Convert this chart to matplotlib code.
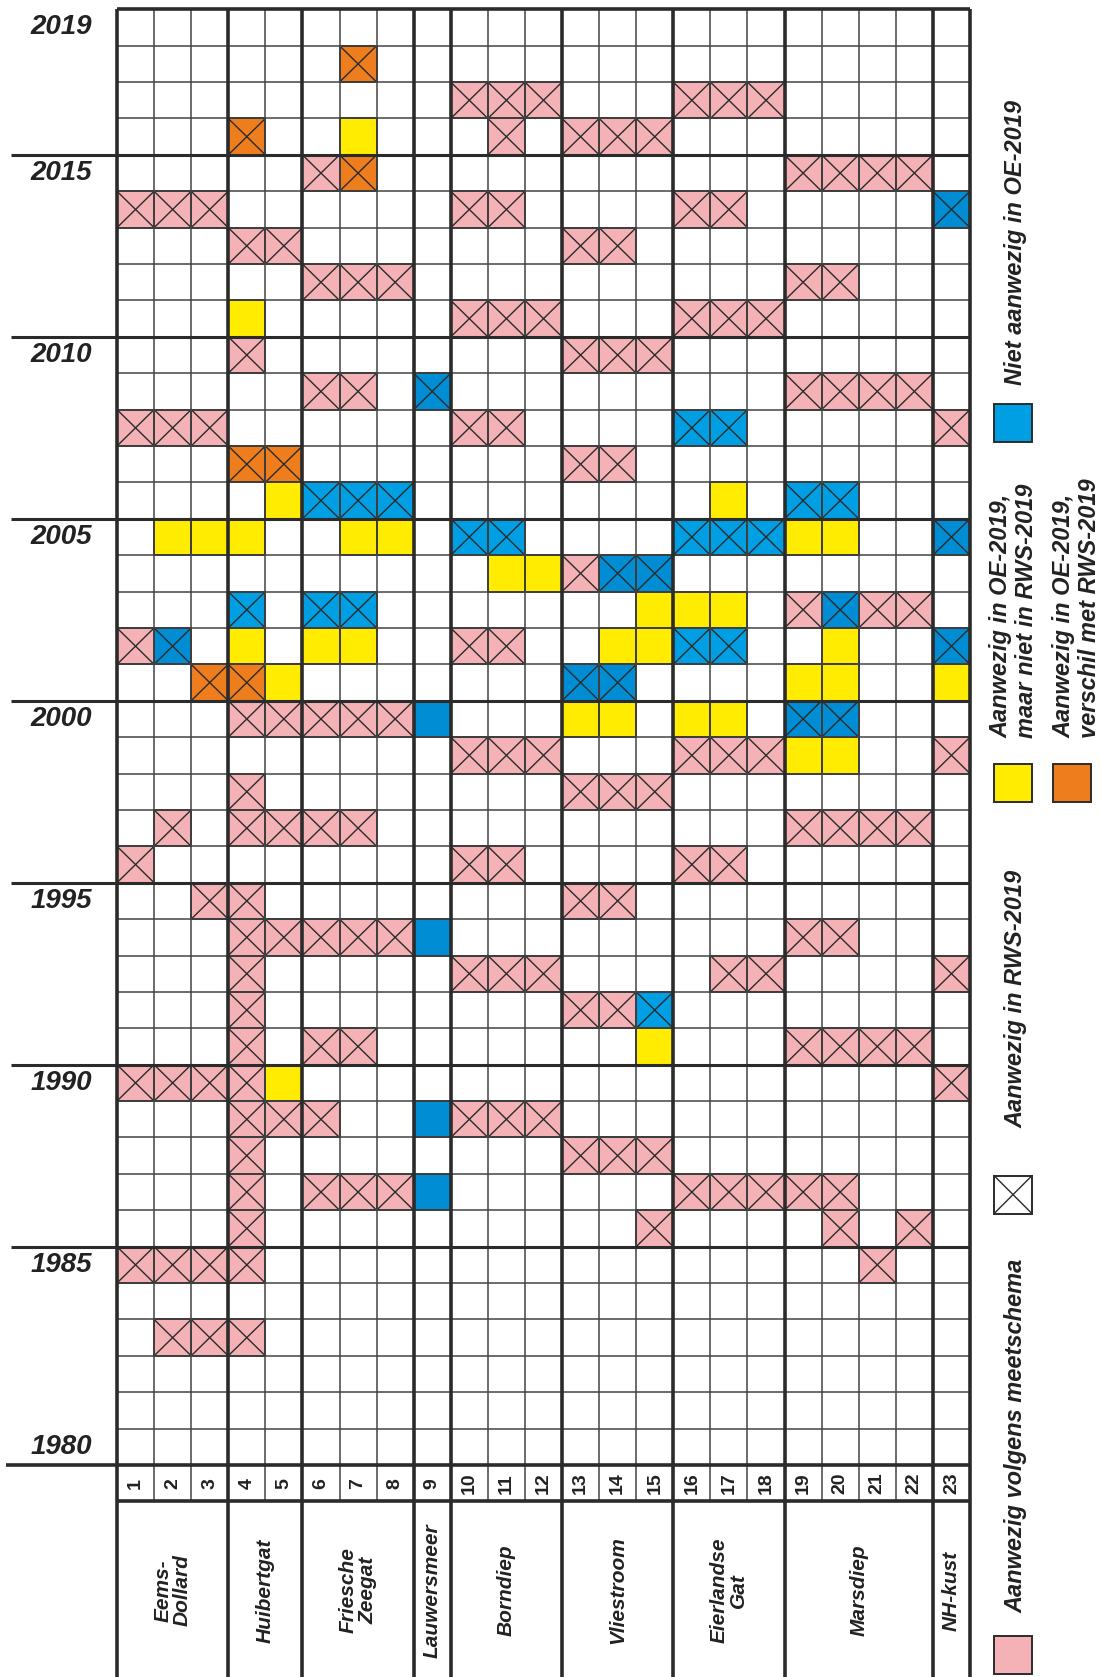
import matplotlib
matplotlib.use('Agg')
import matplotlib.pyplot as plt
from matplotlib.patches import Rectangle

plt.rcParams['font.family'] = ['Liberation Sans', 'DejaVu Sans']

# rows from 2019 (top) down to 1980, one char per station 1..23
years = list(range(2019, 1979, -1))
year_labels = [2019, 2015, 2010, 2005, 2000, 1995, 1990, 1985, 1980]
stations = ['1', '2', '3', '4', '5', '6', '7', '8', '9', '10', '11', '12',
            '13', '14', '15', '16', '17', '18', '19', '20', '21', '22', '23']
group_names = ['Eems-\nDollard', 'Huibertgat', 'Friesche\nZeegat', 'Lauwersmeer',
               'Borndiep', 'Vliestroom', 'Eierlandse\nGat', 'Marsdiep', 'NH-kust']
group_sizes = [3, 2, 3, 1, 3, 3, 3, 4, 1]

# . leeg, p meetschema, y OE niet RWS, o verschil, b/d niet in OE (kruis), B niet in OE
cells = [
    "...|..|...|.|...|...|...|....|.",  # 2019
    "...|..|.o.|.|...|...|...|....|.",
    "...|..|...|.|ppp|...|ppp|....|.",
    "...|o.|.y.|.|.p.|ppp|...|....|.",
    "...|..|po.|.|...|...|...|pppp|.",  # 2015
    "ppp|..|...|.|pp.|...|pp.|....|d",
    "...|pp|...|.|...|pp.|...|....|.",
    "...|..|ppp|.|...|...|...|pp..|.",
    "...|y.|...|.|ppp|...|ppp|....|.",
    "...|p.|...|.|...|ppp|...|....|.",  # 2010
    "...|..|pp.|d|...|...|...|pppp|.",
    "ppp|..|...|.|pp.|...|bb.|....|p",
    "...|oo|...|.|...|pp.|...|....|.",
    "...|.y|bbb|.|...|...|.y.|bb..|.",
    ".yy|y.|.yy|.|bb.|...|bbb|yy..|d",  # 2005
    "...|..|...|.|.yy|pdd|...|....|.",
    "...|b.|bb.|.|...|..y|yy.|pdpp|.",
    "pd.|y.|yy.|.|pp.|.yy|bb.|.y..|d",
    "..o|oy|...|.|...|dd.|...|yy..|y",
    "...|pp|ppp|B|...|yy.|yy.|dd..|.",  # 2000
    "...|..|...|.|ppp|...|ppp|yy..|p",
    "...|p.|...|.|...|ppp|...|....|.",
    ".p.|pp|pp.|.|...|...|...|pppp|.",
    "p..|..|...|.|pp.|...|pp.|....|.",
    "..p|p.|...|.|...|pp.|...|....|.",  # 1995
    "...|pp|ppp|B|...|...|...|pp..|.",
    "...|p.|...|.|ppp|...|.pp|....|p",
    "...|p.|...|.|...|ppb|...|....|.",
    "...|p.|pp.|.|...|..y|...|pppp|.",
    "ppp|py|...|.|...|...|...|....|p",  # 1990
    "...|pp|p..|B|ppp|...|...|....|.",
    "...|p.|...|.|...|ppp|...|....|.",
    "...|p.|ppp|B|...|...|ppp|pp..|.",
    "...|p.|...|.|...|..p|...|.p.p|.",
    "ppp|p.|...|.|...|...|...|..p.|.",  # 1985
    "...|..|...|.|...|...|...|....|.",
    ".pp|p.|...|.|...|...|...|....|.",
    "...|..|...|.|...|...|...|....|.",
    "...|..|...|.|...|...|...|....|.",
    "...|..|...|.|...|...|...|....|.",  # 1980
]

legend_labels = ['Aanwezig volgens meetschema', 'Aanwezig in RWS-2019',
                 'Aanwezig in OE-2019,\nmaar niet in RWS-2019',
                 'Aanwezig in OE-2019,\nverschil met RWS-2019',
                 'Niet aanwezig in OE-2019']
legend_codes = ['P', 'x', 'y', 'O', 'L']

colors = {'p': '#F4B2B6', 'P': '#F4B2B6', 'y': '#FFEC00', 'o': '#EE7E1D', 'O': '#EE7E1D',
          'b': '#009FE3', 'L': '#009FE3', 'd': '#008DD3', 'B': '#008DD3', 'x': 'white'}
crossed = 'pobdx'
ink = '#2b2b2b'

fig = plt.figure(figsize=(11, 16.77), dpi=100)
ax = fig.add_axes([117 / 1100, 1 - 1465 / 1677, 853 / 1100, 1455.7 / 1677])
ncol = len(stations)
nrow = len(years)
ax.set_xlim(0, ncol)
ax.set_ylim(nrow, 0)
ax.axis('off')


def cell(x, y, code, w=1, h=1):
    ax.add_patch(Rectangle((x, y), w, h, facecolor=colors[code], edgecolor=ink,
                           lw=1.4, clip_on=False, zorder=2))
    if code in crossed:
        ax.plot([x, x + w], [y, y + h], color=ink, lw=1.0, clip_on=False, zorder=3)
        ax.plot([x, x + w], [y + h, y], color=ink, lw=1.0, clip_on=False, zorder=3)


# cells
for r, row in enumerate(cells):
    for c, code in enumerate(row.replace('|', '')):
        if code != '.':
            cell(c, r, code)

# group boundaries
bounds = [0]
for s in group_sizes:
    bounds.append(bounds[-1] + s)

# thin grid
ax.vlines(range(ncol + 1), 0, nrow + 1, color='#444444', lw=1.1, zorder=4, clip_on=False)
ax.hlines(range(nrow + 1), 0, ncol, color='#444444', lw=1.1, zorder=4, clip_on=False)
# thick lines
ax.vlines(bounds, 0, nrow + 6, color=ink, lw=2.6, zorder=5, clip_on=False)
ax.hlines([0, nrow + 1], 0, ncol, color=ink, lw=2.6, zorder=5, clip_on=False)
for yr in year_labels[1:-1]:
    ax.hlines(2019 - yr, -2.86, ncol, color=ink, lw=2.2, zorder=5, clip_on=False)
ax.hlines(nrow, -3.0, ncol, color=ink, lw=2.6, zorder=5, clip_on=False)

# year labels
for yr in year_labels:
    ax.text(-1.51, years.index(yr) + 0.5, str(yr), ha='center', va='center',
            fontsize=20, fontweight='bold', fontstyle='italic', color='#222222')

# station numbers
for c, s in enumerate(stations):
    ax.text(c + 0.5, nrow + 0.5, s, rotation=90, ha='center', va='center',
            fontsize=14, fontweight='bold', color='#222222')

# group names
for name, x0, x1 in zip(group_names, bounds[:-1], bounds[1:]):
    ax.text((x0 + x1) / 2, 43.45, name, rotation=90, ha='center', va='center',
            multialignment='center', fontsize=15, fontweight='bold',
            fontstyle='italic', color='#222222', linespacing=1.0)

# legend
box_pos = [(23.65, 44.69), (23.65, 32.05), (23.65, 20.73), (25.24, 20.73), (23.65, 10.84)]
text_pos = [(24.23, 44.08), (24.23, 30.73), (24.18, 20.02), (25.88, 20.02), (24.23, 10.32)]
for code, label, (bx, by), (tx, ty) in zip(legend_codes, legend_labels, box_pos, text_pos):
    cell(bx, by, code, w=1.02, h=1.04)
    ax.text(tx, ty, label, rotation=90, ha='center', va='bottom', multialignment='left',
            fontsize=17, fontweight='bold', fontstyle='italic', color='#222222',
            linespacing=1.15)

fig.savefig('out.png', dpi=100, facecolor='white')
